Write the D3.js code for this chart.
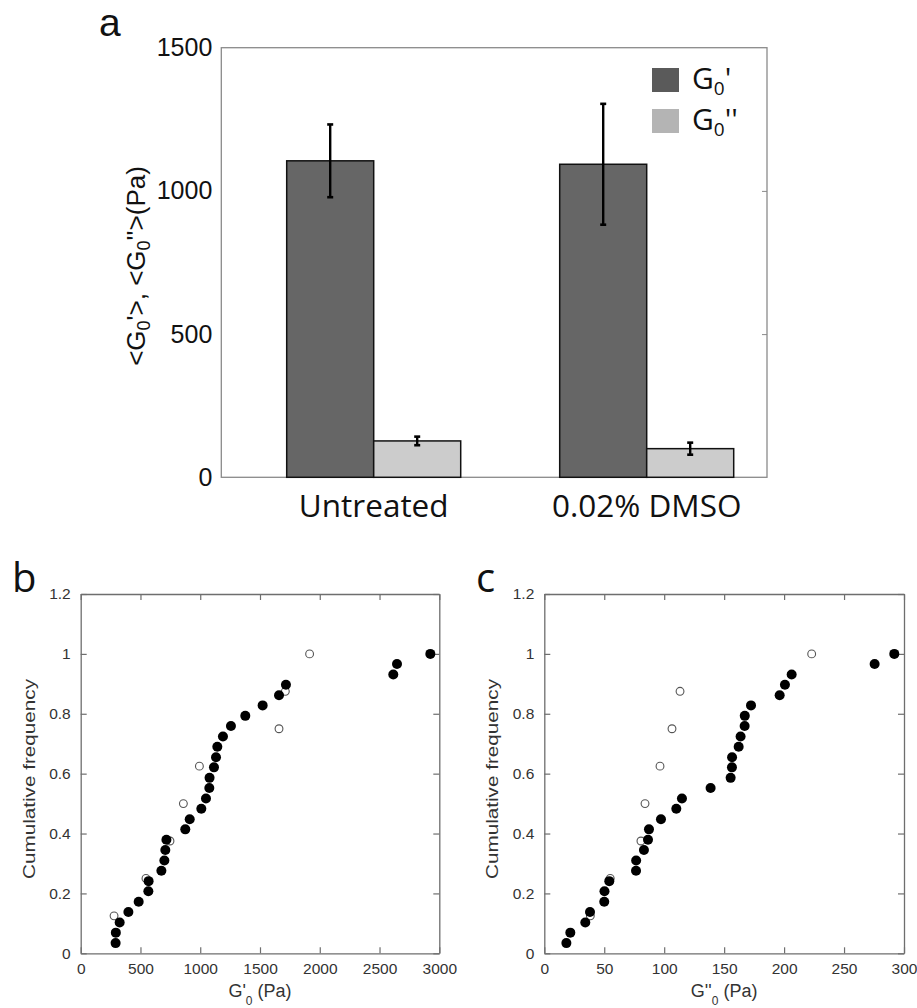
<!DOCTYPE html>
<html>
<head>
<meta charset="utf-8">
<script src="https://cdn.jsdelivr.net/npm/d3@7"></script>
<style>
  body { margin: 0; background: #fff; }
  text { font-family: "Liberation Sans", Arial, sans-serif; }
  .cal { font-family: "Open Sans", sans-serif; }
</style>
</head>
<body>
<div id="visHolder"></div>
<script>
// panel a
const categories = ["Untreated", "0.02% DMSO"];
const storageMean = [1105, 1093];
const storageErr = [127, 211];
const lossMean = [127, 100];
const lossErr = [15, 21];
const yTicksA = [0, 500, 1000, 1500];

// panel b : G'0, filled / open
const bFilledX = [292, 294, 326, 399, 485, 566, 568, 675, 700, 708, 717, 875, 912, 1009, 1048,
                  1076, 1078, 1115, 1132, 1143, 1190, 1257, 1377, 1522, 1659, 1717, 2615, 2646, 2925];
const bOpenX = [279, 546, 747, 859, 993, 1659, 1712, 1915];

// panel c : G''0, filled / open
const cFilledX = [18.4, 21.7, 34.2, 38.1, 50.0, 50.2, 54.2, 76.5, 76.6, 83.1, 86.5, 87.3, 97.3, 110.1, 114.8,
                  138.7, 155.4, 156.5, 156.6, 162.1, 163.7, 167.1, 167.2, 172.4, 196.3, 200.7, 206.3, 275.5, 291.9];
const cOpenX = [38.4, 55.0, 80.6, 84.0, 96.5, 106.5, 113.2, 223.0];

const filledFreq = [0.034, 0.069, 0.103, 0.138, 0.172, 0.207, 0.241, 0.276, 0.310, 0.345, 0.379, 0.414, 0.448, 0.483, 0.517,
                    0.552, 0.586, 0.621, 0.655, 0.690, 0.724, 0.759, 0.793, 0.828, 0.862, 0.897, 0.931, 0.966, 1.0];
const openFreq = [0.125, 0.25, 0.375, 0.5, 0.625, 0.75, 0.875, 1.0];

const freqTicks = [0, 0.2, 0.4, 0.6, 0.8, 1, 1.2];
const freqTickLabels = ["0", "0.2", "0.4", "0.6", "0.8", "1", "1.2"];
const bTicks = [0, 500, 1000, 1500, 2000, 2500, 3000];
const cTicks = [0, 50, 100, 150, 200, 250, 300];

let svg = d3.select("#visHolder")
    .append("svg")
    .attr("width", 917)
    .attr("height", 1008);

// ---------- panel a ----------
let yA = d3.scaleLinear().domain([0, 1500]).range([477.3, 47.7]);
let xA = d3.scalePoint().domain(categories).range([373.7, 646.7]);
let barW = 87;
let aLeft = 221.3, aRight = 767;

svg.append("rect")
    .attr("x", aLeft).attr("y", yA(1500))
    .attr("width", aRight - aLeft).attr("height", yA(0) - yA(1500))
    .attr("fill", "none").attr("stroke", "#8a8a8a").attr("stroke-width", 1.3);

let yAxisA = svg.append("g")
    .attr("transform", `translate(${aLeft},0)`)
    .call(d3.axisLeft(yA).tickValues(yTicksA).tickSize(0).tickPadding(9).tickFormat(d3.format("d")));
yAxisA.select(".domain").remove();
yAxisA.selectAll("text").attr("font-size", 25).attr("fill", "#111")
    .attr("font-family", "Liberation Sans, Arial, sans-serif");

let yAxisAR = svg.append("g")
    .attr("transform", `translate(${aRight},0)`)
    .call(d3.axisRight(yA).tickValues([500, 1000]).tickSize(-5).tickFormat(""));
yAxisAR.select(".domain").remove();
yAxisAR.selectAll("line").attr("stroke", "#8a8a8a");

let groups = svg.append("g").selectAll("g")
    .data(categories)
    .enter()
    .append("g");

groups.append("rect")
    .attr("x", d => xA(d) - barW)
    .attr("y", (d, i) => yA(storageMean[i]))
    .attr("width", barW)
    .attr("height", (d, i) => yA(0) - yA(storageMean[i]))
    .attr("fill", "#666666").attr("stroke", "#111").attr("stroke-width", 1.5);
groups.append("rect")
    .attr("x", d => xA(d))
    .attr("y", (d, i) => yA(lossMean[i]))
    .attr("width", barW)
    .attr("height", (d, i) => yA(0) - yA(lossMean[i]))
    .attr("fill", "#cccccc").attr("stroke", "#111").attr("stroke-width", 1.5);

function errorBar(g, cx, mean, err) {
    g.append("line")
        .attr("x1", cx).attr("x2", cx)
        .attr("y1", yA(mean + err)).attr("y2", yA(mean - err))
        .attr("stroke", "#000").attr("stroke-width", 2.4);
    [mean + err, mean - err].forEach(v => {
        g.append("line")
            .attr("x1", cx - 3).attr("x2", cx + 3)
            .attr("y1", yA(v)).attr("y2", yA(v))
            .attr("stroke", "#000").attr("stroke-width", 2.6);
    });
}
groups.each(function (d, i) {
    let g = d3.select(this);
    errorBar(g, xA(d) - barW / 2, storageMean[i], storageErr[i]);
    errorBar(g, xA(d) + barW / 2, lossMean[i], lossErr[i]);
});

svg.append("g").selectAll("text")
    .data(categories)
    .enter()
    .append("text")
    .attr("class", "cal")
    .attr("x", d => xA(d))
    .attr("y", 517)
    .attr("text-anchor", "middle")
    .attr("font-size", 31.5)
    .attr("fill", "#111")
    .text(d => d);

// y label of panel a
let yLabA = svg.append("text")
    .attr("transform", "translate(145,266) rotate(-90)")
    .attr("text-anchor", "middle")
    .attr("font-size", 26)
    .attr("fill", "#111");
yLabA.append("tspan").text("<G");
yLabA.append("tspan").attr("font-size", 18).attr("dy", 5).text("0");
yLabA.append("tspan").attr("dy", -5).text("'>, <G");
yLabA.append("tspan").attr("font-size", 18).attr("dy", 5).text("0");
yLabA.append("tspan").attr("dy", -5).text("''>(Pa)");

// legend
let legendItems = [
    { color: "#5a5a5a", sup: "'" },
    { color: "#b4b4b4", sup: "''" }
];
let leg = svg.append("g").selectAll("g")
    .data(legendItems)
    .enter()
    .append("g")
    .attr("transform", (d, i) => `translate(652,${68 + i * 41})`);
leg.append("rect")
    .attr("width", 27).attr("height", 24)
    .attr("fill", d => d.color);
let legText = leg.append("text")
    .attr("class", "cal")
    .attr("x", 40).attr("y", 21)
    .attr("font-size", 30)
    .attr("fill", "#111");
legText.append("tspan").text("G");
legText.append("tspan").attr("font-size", 19).attr("dy", 6).text("0");
legText.append("tspan").attr("dy", -6).text(d => d.sup);

// panel letters
svg.append("text").attr("x", 99).attr("y", 36)
    .attr("font-size", 39).attr("fill", "#111").text("a");
svg.append("text").attr("class", "cal").attr("x", 12).attr("y", 592)
    .attr("font-size", 40).attr("fill", "#111").text("b");
svg.append("text").attr("class", "cal").attr("x", 476).attr("y", 592)
    .attr("font-size", 40).attr("fill", "#111").text("c");

// ---------- panels b, c ----------
function drawScatter(left, right, xMax, xTicks, filledX, openX, primes) {
    let x = d3.scaleLinear().domain([0, xMax]).range([left, right]);
    let y = d3.scaleLinear().domain([0, 1.2]).range([953.3, 594]);
    let g = svg.append("g");
    let axisColor = "#6e6e6e";

    let bottom = g.append("g")
        .attr("transform", `translate(0,${y(0)})`)
        .call(d3.axisBottom(x).tickValues(xTicks).tickSizeInner(-6).tickSizeOuter(0).tickPadding(10)
            .tickFormat(d3.format("d")));
    let top = g.append("g")
        .attr("transform", `translate(0,${y(1.2)})`)
        .call(d3.axisTop(x).tickValues(xTicks).tickSizeInner(-6).tickSizeOuter(0).tickFormat(""));
    let leftAx = g.append("g")
        .attr("transform", `translate(${left},0)`)
        .call(d3.axisLeft(y).tickValues(freqTicks).tickSizeInner(-6).tickSizeOuter(0).tickPadding(10)
            .tickFormat((d, i) => freqTickLabels[i]));
    let rightAx = g.append("g")
        .attr("transform", `translate(${right},0)`)
        .call(d3.axisRight(y).tickValues(freqTicks).tickSizeInner(-6).tickSizeOuter(0).tickFormat(""));
    [bottom, top, leftAx, rightAx].forEach(a => {
        a.select(".domain").attr("stroke", axisColor).attr("stroke-width", 1.3);
        a.selectAll("line").attr("stroke", axisColor).attr("stroke-width", 1.2);
        a.selectAll("text").attr("font-size", 15.5).attr("fill", "#333")
            .attr("font-family", "Liberation Sans, Arial, sans-serif");
    });

    g.append("g").selectAll("circle")
        .data(openX)
        .enter()
        .append("circle")
        .attr("cx", d => x(d))
        .attr("cy", (d, i) => y(openFreq[i]))
        .attr("r", 3.9)
        .attr("fill", "#fff")
        .attr("stroke", "#555")
        .attr("stroke-width", 1.1);
    g.append("g").selectAll("circle")
        .data(filledX)
        .enter()
        .append("circle")
        .attr("cx", d => x(d))
        .attr("cy", (d, i) => y(filledFreq[i]))
        .attr("r", 5)
        .attr("fill", "#000");

    let xl = g.append("text")
        .attr("x", (left + right) / 2)
        .attr("y", 997)
        .attr("text-anchor", "middle")
        .attr("font-size", 18)
        .attr("fill", "#333");
    xl.append("tspan").text("G" + primes);
    xl.append("tspan").attr("font-size", 12).attr("dy", 8).text("0");
    xl.append("tspan").attr("dy", -8).text(" (Pa)");

    g.append("text")
        .attr("transform", `translate(${left - 46},779) rotate(-90)`)
        .attr("text-anchor", "middle")
        .attr("font-size", 17)
        .attr("textLength", 200)
        .attr("lengthAdjust", "spacingAndGlyphs")
        .attr("fill", "#333")
        .text("Cumulative frequency");
}

drawScatter(80.7, 439.3, 3000, bTicks, bFilledX, bOpenX, "'");
drawScatter(544.3, 904, 300, cTicks, cFilledX, cOpenX, "''");
</script>
</body>
</html>
